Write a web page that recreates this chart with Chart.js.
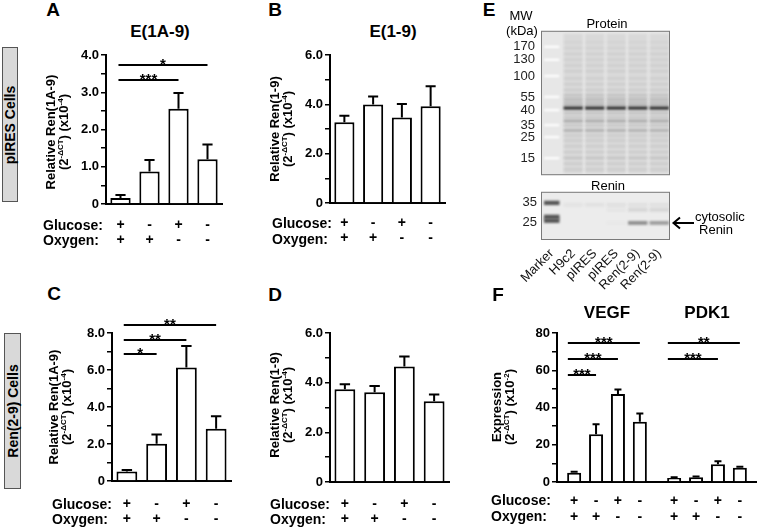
<!DOCTYPE html>
<html>
<head>
<meta charset="utf-8">
<script src="https://cdn.jsdelivr.net/npm/chart.js@4.4.1/dist/chart.umd.min.js"></script>
<style>
html,body{margin:0;padding:0;background:#fff;}
#fig{position:relative;width:757px;height:528px;overflow:hidden;font-family:"Liberation Sans",Arial,sans-serif;color:#000;background:#fff;}
.t{position:absolute;white-space:nowrap;}
.t sup{font-size:8px;vertical-align:5px;line-height:0;}
.box{position:absolute;background:#d9d9d9;border:1px solid #555;box-sizing:border-box;}
.wrap{position:absolute;}
</style>
</head>
<body>
<div id="fig"></div>
<script>
// ---------------- data ----------------
const glucose = ['+', '-', '+', '-'];
const oxygen  = ['+', '+', '-', '-'];

const aMean = [0.16, 0.87, 2.56, 1.20];
const aSem  = [0.08, 0.31, 0.42, 0.40];
const bMean = [3.27, 3.99, 3.47, 3.92];
const bSem  = [0.27, 0.33, 0.54, 0.81];
const cMean = [0.52, 2.02, 6.13, 2.83];
const cSem  = [0.07, 0.50, 1.17, 0.67];
const dMean = [3.73, 3.61, 4.65, 3.25];
const dSem  = [0.21, 0.26, 0.40, 0.27];

const fGenes   = ['VEGF', 'PDK1'];
const vegfMean = [4.9, 25.6, 47.2, 32.3];
const vegfSem  = [0.6, 5.4, 2.5, 4.5];
const pdk1Mean = [2.2, 2.5, 9.5, 7.6];
const pdk1Sem  = [0.3, 0.4, 1.7, 0.6];

// significance: [from, to, y, label]
const aSig = [[0, 3, 3.73, '*'], [0, 2, 3.33, '***']];
const cSig = [[0, 3, 8.43, '**'], [0, 2, 7.62, '**'], [0, 1, 6.86, '*']];
// F: [gene, from, to, y, label]
const fSig = [[0, 0, 3, 74.6, '***'], [0, 0, 2, 66, '***'], [0, 0, 1, 57.3, '***'],
              [1, 0, 3, 74.6, '**'], [1, 0, 2, 66, '***']];

// blot (panel E)
const lanes = ['Marker', 'H9c2', 'pIRES', 'pIRES', 'Ren(2-9)', 'Ren(2-9)'];
const proteinMarkerMW = [170, 130, 100, 55, 40, 35, 25, 15];
const proteinMarkerRf = [0.111, 0.201, 0.313, 0.458, 0.549, 0.653, 0.736, 0.882];
const proteinBandRf      = [0.08, 0.12, 0.16, 0.20, 0.24, 0.28, 0.33, 0.37, 0.41, 0.445, 0.47, 0.49, 0.51, 0.535, 0.57, 0.60, 0.625, 0.655, 0.69, 0.725, 0.76, 0.80, 0.84, 0.88, 0.92, 0.96];
const proteinBandDensity = [0.03, 0.04, 0.05, 0.05, 0.05, 0.06, 0.06, 0.06, 0.08, 0.13, 0.17, 0.15, 0.19, 0.85, 0.13, 0.11, 0.28, 0.11, 0.26, 0.08, 0.08, 0.08, 0.07, 0.12, 0.07, 0.08];
const reninMarkerMW = [35, 25];
const reninMarkerRf = [0.23, 0.625];
const reninMarkerBandRf = [0.23, 0.52, 0.60];
const reninBandRf = [0.27, 0.375, 0.646];
const reninBandDensity = [
  [0, 0.04, 0.05, 0.06, 0.06, 0.06],
  [0, 0.00, 0.00, 0.03, 0.10, 0.10],
  [0, 0.00, 0.00, 0.02, 0.45, 0.38]
];

// ---------------- helpers ----------------
const FONT = '"Liberation Sans", Arial, sans-serif';
Chart.defaults.font.family = FONT;
Chart.defaults.color = '#000';
const fig = document.getElementById('fig');

function addText(html, x, y, o = {}) {
  const d = document.createElement('div');
  d.className = 't';
  d.innerHTML = html;
  const size = o.size || 14;
  d.style.fontSize = size + 'px';
  d.style.fontWeight = o.weight || 'bold';
  d.style.lineHeight = (o.lh || Math.round(size * 1.15)) + 'px';
  d.style.left = x + 'px';
  d.style.top = y + 'px';
  d.style.textAlign = 'center';
  const tx = o.align === 'left' ? '0' : o.align === 'right' ? '-100%' : '-50%';
  d.style.transform = `translate(${tx},-50%)` + (o.rot ? ` rotate(${o.rot}deg)` : '');
  fig.appendChild(d);
  return d;
}
function addBox(l, t, w, h, text) {
  const b = document.createElement('div');
  b.className = 'box';
  Object.assign(b.style, {left: l + 'px', top: t + 'px', width: w + 'px', height: h + 'px'});
  fig.appendChild(b);
  addText(text, l + w / 2, t + h / 2, {size: 14, weight: 'bold', rot: -90});
}
function makeCanvas(p) {
  const w = document.createElement('div');
  w.className = 'wrap';
  Object.assign(w.style, {left: p.l + 'px', top: p.t + 'px', width: p.w + 'px', height: p.h + 'px'});
  const c = document.createElement('canvas');
  w.appendChild(c);
  fig.appendChild(w);
  return c;
}

const errPlugin = {
  id: 'errbars',
  afterDatasetsDraw(chart) {
    const ctx = chart.ctx, ys = chart.scales.y;
    ctx.save();
    ctx.strokeStyle = '#000';
    ctx.lineWidth = 2;
    chart.data.datasets.forEach((ds, di) => {
      if (!ds.sem) return;
      chart.getDatasetMeta(di).data.forEach((el, j) => {
        const top = ys.getPixelForValue(ds.data[j] + ds.sem[j]);
        const cap = el.width * 0.25;
        ctx.beginPath();
        ctx.moveTo(el.x, el.y);
        ctx.lineTo(el.x, top);
        ctx.moveTo(el.x - cap, top);
        ctx.lineTo(el.x + cap, top);
        ctx.stroke();
      });
    });
    ctx.restore();
  }
};

function sigPlugin(lines, startOff, grouped) {
  return {
    id: 'sig',
    afterDraw(chart) {
      const ctx = chart.ctx, ys = chart.scales.y;
      ctx.save();
      ctx.strokeStyle = '#000';
      ctx.fillStyle = '#000';
      ctx.lineWidth = 2;
      ctx.font = 'bold 15px ' + FONT;
      ctx.textAlign = 'center';
      ctx.textBaseline = 'alphabetic';
      lines.forEach(l => {
        let ea, eb, yv, txt;
        if (grouped) {
          ea = chart.getDatasetMeta(l[1]).data[l[0]];
          eb = chart.getDatasetMeta(l[2]).data[l[0]];
          yv = l[3]; txt = l[4];
        } else {
          const m = chart.getDatasetMeta(0).data;
          ea = m[l[0]]; eb = m[l[1]];
          yv = l[2]; txt = l[3];
        }
        const x1 = ea.x + startOff * ea.width, x2 = eb.x;
        const y = Math.round(ys.getPixelForValue(yv));
        ctx.beginPath();
        ctx.moveTo(x1, y);
        ctx.lineTo(x2, y);
        ctx.stroke();
        ctx.fillText(txt, (x1 + x2) / 2, y + 4);
      });
      ctx.restore();
    }
  };
}

function yTickFmt(major, dec) {
  return v => {
    if (Math.abs(v) < 1e-9) return '0';
    const r = Math.round(v / major) * major;
    if (Math.abs(v - r) > 1e-6) return '';
    return r.toFixed(dec);
  };
}

function yScale(max, minor, major, dec, yw) {
  return {
    min: 0, max: max,
    ticks: {stepSize: minor, autoSkip: false, color: '#000', font: {size: 13, weight: 'bold'}, padding: 2,
            callback: yTickFmt(major, dec)},
    grid: {display: true, drawOnChartArea: false, drawTicks: true, tickLength: 5, color: '#000', lineWidth: 1.5},
    border: {display: true, color: '#000', width: 2},
    afterFit: s => { s.width = yw; }
  };
}

function barPanel(p, o) {
  const cv = makeCanvas(p);
  return new Chart(cv, {
    type: 'bar',
    data: {
      labels: glucose.map((g, i) => [g, oxygen[i]]),
      datasets: [{data: o.mean, sem: o.sem, backgroundColor: '#fff', borderColor: '#000', borderWidth: 2,
                  barPercentage: 0.7, categoryPercentage: 1}]
    },
    options: {
      responsive: true, maintainAspectRatio: false, animation: false, events: [],
      layout: {padding: {top: p.pt, right: p.pr, left: 0, bottom: 0}},
      plugins: {legend: {display: false}, tooltip: {enabled: false}},
      scales: {
        x: {
          grid: {display: true, drawOnChartArea: false, drawTicks: false},
          border: {display: true, color: '#000', width: 2},
          ticks: {color: '#000', font: {size: 14, weight: 'bold', lineHeight: 1.1}, padding: p.xpad, maxRotation: 0, autoSkip: false},
          afterFit: s => { s.height = p.xh; }
        },
        y: yScale(o.max, o.minor, o.major, o.dec, p.yw)
      }
    },
    plugins: [errPlugin, sigPlugin(o.sig || [], o.startOff || 0, false)]
  });
}

// ---------------- panels A-D ----------------
barPanel({l: 66, t: 45, w: 160, h: 205, pt: 10, pr: 4, yw: 40, xh: 46, xpad: 13},
         {mean: aMean, sem: aSem, max: 4, minor: 0.5, major: 1, dec: 1, sig: aSig, startOff: -0.1});
barPanel({l: 290, t: 45, w: 159, h: 204, pt: 10, pr: 4, yw: 40, xh: 46, xpad: 12},
         {mean: bMean, sem: bSem, max: 6, minor: 1, major: 2, dec: 1});
barPanel({l: 72, t: 311, w: 163, h: 217, pt: 22, pr: 4, yw: 40, xh: 47, xpad: 15},
         {mean: cMean, sem: cSem, max: 8, minor: 1, major: 2, dec: 1, sig: cSig, startOff: -0.15});
barPanel({l: 290, t: 323, w: 163, h: 205, pt: 10, pr: 4, yw: 40, xh: 46, xpad: 14},
         {mean: dMean, sem: dSem, max: 6, minor: 1, major: 2, dec: 1});

// ---------------- panel F ----------------
(function () {
  const p = {l: 517, t: 295, w: 240, h: 233};
  const cv = makeCanvas(p);
  const condPlugin = {
    id: 'cond',
    afterDraw(chart) {
      const ctx = chart.ctx, b = chart.chartArea.bottom;
      ctx.save();
      ctx.font = 'bold 14px ' + FONT;
      ctx.textAlign = 'center';
      ctx.textBaseline = 'middle';
      ctx.fillStyle = '#000';
      chart.data.datasets.forEach((ds, di) => {
        chart.getDatasetMeta(di).data.forEach(el => {
          ctx.fillText(glucose[di], el.x, b + 19);
          ctx.fillText(oxygen[di], el.x, b + 35);
        });
      });
      ctx.restore();
    }
  };
  const ds = glucose.map((g, i) => ({
    data: [vegfMean[i], pdk1Mean[i]], sem: [vegfSem[i], pdk1Sem[i]], xAxisID: 'x',
    backgroundColor: '#fff', borderColor: '#000', borderWidth: 2,
    barPercentage: 0.64, categoryPercentage: 0.876
  }));
  new Chart(cv, {
    type: 'bar',
    data: {labels: fGenes, datasets: ds},
    options: {
      responsive: true, maintainAspectRatio: false, animation: false, events: [],
      layout: {padding: {top: 0, right: 0, left: 0, bottom: 0}},
      plugins: {legend: {display: false}, tooltip: {enabled: false}},
      scales: {
        x: {
          grid: {display: true, drawOnChartArea: false, drawTicks: false},
          border: {display: true, color: '#000', width: 2},
          ticks: {display: false},
          afterFit: s => { s.height = 46; }
        },
        xTop: {
          type: 'category', position: 'top', labels: fGenes, offset: true,
          grid: {display: false, drawTicks: false}, border: {display: false},
          ticks: {color: '#000', font: {size: 17, weight: 'bold'}, padding: 9, maxRotation: 0},
          afterFit: s => { s.height = 38; }
        },
        y: yScale(80, 10, 20, 0, 40)
      }
    },
    plugins: [errPlugin, sigPlugin(fSig, -0.45, true), condPlugin]
  });
})();

// ---------------- panel E (blot) ----------------
function gelPlugin(bg, blur) {
  return {
    id: 'gel',
    beforeDatasetsDraw(chart) {
      const {ctx, chartArea: a} = chart;
      ctx.fillStyle = bg;
      ctx.fillRect(a.left, a.top, a.right - a.left, a.bottom - a.top);
      ctx.save();
      ctx.filter = `blur(${blur}px)`;
    },
    afterDatasetsDraw(chart) {
      chart.ctx.restore();
    },
    afterDraw(chart) {
      const {ctx, chartArea: a} = chart;
      ctx.save();
      ctx.strokeStyle = '#7a7a7a';
      ctx.lineWidth = 1;
      ctx.strokeRect(a.left + 0.5, a.top + 0.5, a.right - a.left - 1, a.bottom - a.top - 1);
      ctx.restore();
    }
  };
}
function band(rf, half) { return [rf - half, rf + half]; }

(function () {
  const p = {l: 500, t: 17, w: 257, h: 172};
  const cv = makeCanvas(p);
  const datasets = [];
  datasets.push({data: lanes.map((l, i) => i === 0 ? null : [0.02, 0.99]), backgroundColor: 'rgba(0,0,0,0.06)',
                 barPercentage: 0.9, categoryPercentage: 1, grouped: false, borderWidth: 0});
  proteinBandRf.forEach((rf, k) => {
    const dens = proteinBandDensity[k];
    const half = dens > 0.5 ? 0.011 : 0.007;
    datasets.push({data: lanes.map((l, i) => i === 0 ? null : band(rf, half)),
                   backgroundColor: `rgba(20,20,20,${dens})`, barPercentage: 0.9, categoryPercentage: 1,
                   grouped: false, borderWidth: 0});
  });
  proteinMarkerRf.forEach(rf => {
    datasets.push({data: lanes.map((l, i) => i === 0 ? band(rf, 0.008) : null),
                   backgroundColor: 'rgba(255,255,255,0.95)', barPercentage: 0.7, categoryPercentage: 1,
                   grouped: false, borderWidth: 0});
  });
  new Chart(cv, {
    type: 'bar',
    data: {labels: lanes, datasets},
    options: {
      responsive: true, maintainAspectRatio: false, animation: false, events: [],
      layout: {padding: {top: 0, right: 87, left: 0, bottom: 0}},
      plugins: {legend: {display: false}, tooltip: {enabled: false}},
      scales: {
        x: {display: false, offset: true},
        y: {
          min: 0, max: 1, reverse: true,
          afterBuildTicks: s => { s.ticks = proteinMarkerRf.map(v => ({value: v})); },
          ticks: {autoSkip: false, color: '#222', font: {size: 13}, padding: 6,
                  callback: (v, i) => String(proteinMarkerMW[i])},
          grid: {display: false, drawTicks: false}, border: {display: false},
          afterFit: s => { s.width = 41; }
        }
      }
    },
    plugins: [gelPlugin('#e7e7e7', 1)]
  });
})();

(function () {
  const p = {l: 500, t: 180, w: 257, h: 132};
  const cv = makeCanvas(p);
  const datasets = [];
  reninMarkerBandRf.forEach(rf => {
    datasets.push({data: lanes.map((l, i) => i === 0 ? band(rf, 0.045) : null),
                   backgroundColor: 'rgba(60,60,60,0.85)', barPercentage: 0.72, categoryPercentage: 1,
                   grouped: false, borderWidth: 0});
  });
  reninBandRf.forEach((rf, k) => {
    datasets.push({data: lanes.map((l, i) => reninBandDensity[k][i] > 0 ? band(rf, 0.04) : null),
                   backgroundColor: reninBandDensity[k].map(d => `rgba(30,30,30,${d})`),
                   barPercentage: 0.9, categoryPercentage: 1, grouped: false, borderWidth: 0});
  });
  new Chart(cv, {
    type: 'bar',
    data: {labels: lanes, datasets},
    options: {
      responsive: true, maintainAspectRatio: false, animation: false, events: [],
      layout: {padding: {top: 0, right: 87, left: 0, bottom: 0}},
      plugins: {legend: {display: false}, tooltip: {enabled: false}},
      scales: {
        x: {
          offset: true,
          grid: {display: false, drawTicks: false}, border: {display: false},
          ticks: {color: '#111', font: {size: 13}, padding: 6, minRotation: 45, maxRotation: 45, autoSkip: false},
          afterFit: s => { s.height = 72; }
        },
        y: {
          min: 0, max: 1, reverse: true,
          afterBuildTicks: s => { s.ticks = reninMarkerRf.map(v => ({value: v})); },
          ticks: {autoSkip: false, color: '#222', font: {size: 13}, padding: 4,
                  callback: (v, i) => String(reninMarkerMW[i])},
          grid: {display: false, drawTicks: false}, border: {display: false},
          afterFit: s => { s.width = 41; }
        }
      }
    },
    plugins: [gelPlugin('#ececec', 0.9)]
  });
})();

// ---------------- text, labels, boxes ----------------
[['A', 53, 10], ['B', 275, 10], ['E', 489, 10], ['C', 54, 294], ['D', 275, 295], ['F', 498, 295]]
  .forEach(([s, x, y]) => addText(s, x, y, {size: 19}));

addText('E(1A-9)', 160, 32, {size: 17});
addText('E(1-9)', 393, 32, {size: 17});

[[43, 225, 240], [272, 223, 239], [52, 504, 519], [270, 504, 519], [491, 500, 516]].forEach(([x, y1, y2]) => {
  addText('Glucose:', x, y1, {size: 14, align: 'left'});
  addText('Oxygen:', x, y2, {size: 14, align: 'left'});
});

const ct = '(2<sup>-\u0394CT</sup>) (x10<sup>-4</sup>)';
addText('Relative Ren(1A-9)<br>' + ct, 57, 132, {size: 13, lh: 13, rot: -90});
addText('Relative Ren(1-9)<br>' + ct, 281, 129, {size: 13, lh: 13, rot: -90});
addText('Relative Ren(1A-9)<br>' + ct, 60, 407, {size: 13, lh: 13, rot: -90});
addText('Relative Ren(1-9)<br>' + ct, 281, 405, {size: 13, lh: 13, rot: -90});
addText('Expression<br>(2<sup>-\u0394CT</sup>) (x10<sup>-2</sup>)', 503, 407, {size: 13, lh: 13, rot: -90});

addBox(2, 47, 16, 155, 'pIRES Cells');
addBox(4, 333, 17, 156, 'Ren(2-9) Cells');

addText('MW', 521, 15, {size: 13, weight: 'normal'});
addText('(kDa)', 522, 30, {size: 13, weight: 'normal'});
addText('Protein', 607, 23, {size: 13, weight: 'normal'});
addText('Renin', 608, 185, {size: 13, weight: 'normal'});
addText('cytosolic', 695, 216, {size: 13, weight: 'normal', align: 'left'});
addText('Renin', 716, 229, {size: 13, weight: 'normal'});
(function () {
  const ns = 'http://www.w3.org/2000/svg';
  const s = document.createElementNS(ns, 'svg');
  s.setAttribute('width', '26'); s.setAttribute('height', '16');
  s.style.cssText = 'position:absolute;left:670px;top:215px;';
  s.innerHTML = '<line x1="4" y1="8" x2="24" y2="8" stroke="#000" stroke-width="2"/>' +
                '<polyline points="10,2.5 3.5,8 10,13.5" fill="none" stroke="#000" stroke-width="2"/>';
  fig.appendChild(s);
})();
</script>
</body>
</html>
